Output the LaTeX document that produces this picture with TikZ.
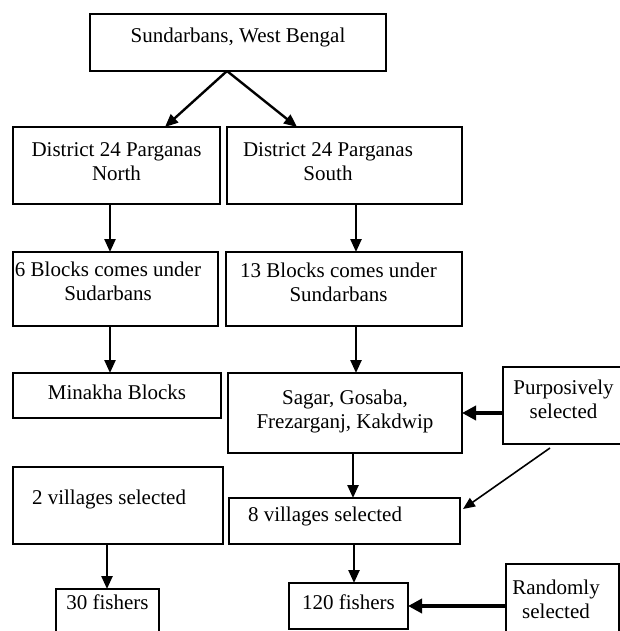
\documentclass[tikz,border=0pt]{standalone}
\usepackage{fontspec}
\setmainfont{Liberation Serif}
\usepackage{tikz}
\usetikzlibrary{arrows.meta}

\newcommand{\pad}[1]{\hspace*{#1pt}}

\begin{document}
\begin{tikzpicture}[x=1pt, y=-1pt,
every node/.style = {font=\fontsize{21}{24}\selectfont, align=center, inner sep=0pt, outer sep=0pt},
  box/.style = {draw, line width=1.4pt, rectangle, anchor=north},
  arr/.style = {line width=2.4pt, -{Triangle[length=13pt, width=11pt]}},
  thk/.style = {line width=4pt, -{Triangle[length=14pt, width=14pt]}},
  slim/.style = {line width=1.6pt, -{Triangle[length=12pt, width=10pt]}}
]
\useasboundingbox (0,0) rectangle (620,631);
\clip (0,0) rectangle (620,631);
% text height = top to last baseline, text depth = the rest
\node[box, minimum width=296pt, text height=29pt, text depth=28pt] (top) at (238,14) {Sundarbans, West Bengal};
\node[box, minimum width=207pt, text height=53pt, text depth=24pt] (dn) at (116.5,127) {District 24 Parganas\\North};
\node[box, minimum width=235pt, text height=53pt, text depth=24pt] (ds) at (344.5,127) {District 24 Parganas\pad{33}\\South\pad{33}};
\node[box, minimum width=205pt, text height=48pt, text depth=26pt] (b6) at (115.5,252) {6 Blocks comes under\pad{15}\\Sudarbans\pad{15}};
\node[box, minimum width=236pt, text height=49pt, text depth=25pt] (b13) at (344,252) {13 Blocks comes under\pad{11}\\Sundarbans\pad{11}};
\node[box, minimum width=208pt, text height=26pt, text depth=19pt] (mk) at (117,373) {Minakha Blocks};
\node[box, minimum width=234pt, text height=55pt, text depth=25pt] (sg) at (345,373) {Sagar, Gosaba,\\Frezarganj, Kakdwip};
\node[box, minimum width=121pt, text height=51pt, text depth=26pt] (pp) at (563.5,367) {Purposively\\selected};
\node[box, minimum width=210pt, text height=37pt, text depth=40pt] (v2) at (118,467) {2 villages selected\pad{18}};
\node[box, minimum width=231pt, text height=23pt, text depth=23pt] (v8) at (344.5,498) {8 villages selected\pad{39}};
\node[box, minimum width=103pt, text height=20pt, text depth=45pt] (f30) at (107.5,589) {30 fishers};
\node[box, minimum width=119pt, text height=26pt, text depth=20pt] (f120) at (348.5,583) {120 fishers};
\node[box, minimum width=113pt, text height=54pt, text depth=46pt] (rd) at (562.5,564) {Randomly\pad{13}\\selected\pad{13}};

\draw[arr] ([xshift=-11pt]top.south) -- ([xshift=48.5pt]dn.north);
\draw[arr] ([xshift=-11pt]top.south) -- ([xshift=-47.5pt]ds.north);
\draw[arr] ([xshift=-6.5pt]dn.south) -- ([xshift=-5.5pt]b6.north);
\draw[arr] ([xshift=11.5pt]ds.south) -- ([xshift=12pt]b13.north);
\draw[arr] ([xshift=-5.5pt]b6.south) -- ([xshift=-7pt]mk.north);
\draw[arr] ([xshift=12pt]b13.south) -- ([xshift=11pt]sg.north);
\draw[thk] (pp.west |- sg.east) -- (sg.east);
\draw[slim] ([xshift=-13.5pt, yshift=-4pt]pp.south) -- ([xshift=3pt, yshift=12pt]v8.east);
\draw[arr] ([xshift=8pt]sg.south) -- ([xshift=8.5pt]v8.north);
\draw[arr] ([xshift=-11pt]v2.south) -- ([xshift=-0.5pt]f30.north);
\draw[arr] ([xshift=9.5pt]v8.south) -- ([xshift=5.5pt]f120.north);
\draw[thk] (rd.west |- f120.east) -- (f120.east);
\end{tikzpicture}
\end{document}
